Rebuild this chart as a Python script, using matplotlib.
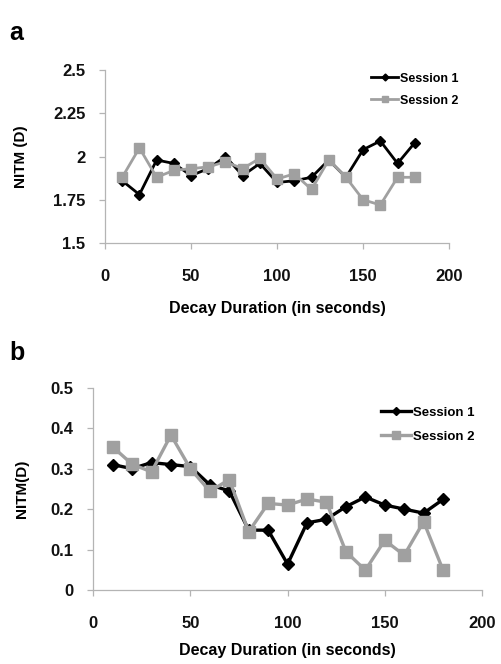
import matplotlib
matplotlib.use("Agg")
import matplotlib.pyplot as plt

plt.rcParams['font.family'] = ['Liberation Sans', 'DejaVu Sans']
plt.rcParams['font.weight'] = 'bold'

# data
secs = [10, 20, 30, 40, 50, 60, 70, 80, 90, 100, 110, 120, 130, 140, 150, 160, 170, 180]

a_s1 = [1.86, 1.78, 1.98, 1.96, 1.89, 1.93, 2.00, 1.89, 1.96, 1.85, 1.86, 1.88,
        1.98, 1.88, 2.04, 2.09, 1.96, 2.08]
a_s2 = [1.88, 2.05, 1.88, 1.92, 1.93, 1.94, 1.97, 1.93, 1.99, 1.87, 1.90, 1.81,
        1.98, 1.88, 1.75, 1.72, 1.88, 1.88]

b_s1 = [0.31, 0.30, 0.315, 0.31, 0.305, 0.26, 0.245, 0.148, 0.148, 0.064, 0.166,
        0.175, 0.206, 0.23, 0.21, 0.20, 0.19, 0.224]
b_s2 = [0.354, 0.311, 0.292, 0.383, 0.30, 0.244, 0.273, 0.144, 0.214, 0.21, 0.225,
        0.217, 0.095, 0.049, 0.123, 0.086, 0.169, 0.049]

a_yticks = [1.5, 1.75, 2, 2.25, 2.5]
a_ylabels = ['1.5', '1.75', '2', '2.25', '2.5']
b_yticks = [0, 0.1, 0.2, 0.3, 0.4, 0.5]
b_ylabels = ['0', '0.1', '0.2', '0.3', '0.4', '0.5']
xticks = [0, 50, 100, 150, 200]
xlabels = ['0', '50', '100', '150', '200']

BLACK = '#000000'
GRAY = '#a0a0a0'
SPINE = '#b4b4b4'


def style_axes(ax, yticks, ylabels, fs):
    for s in ['top', 'right']:
        ax.spines[s].set_visible(False)
    for s in ['left', 'bottom']:
        ax.spines[s].set_color(SPINE)
        ax.spines[s].set_linewidth(0.9)
    ax.set_xticks(xticks)
    ax.set_xticklabels(xlabels, fontsize=fs, fontweight='bold', color='#111111')
    ax.set_yticks(yticks)
    ax.set_yticklabels(ylabels, fontsize=fs, fontweight='bold', color='#111111')
    ax.tick_params(axis='both', colors=SPINE, labelcolor='#111111', length=4,
                   width=0.9, direction='out')
    ax.tick_params(axis='x', pad=15)
    ax.tick_params(axis='y', pad=10)


fig = plt.figure(figsize=(5.01, 6.64), dpi=100)

# panel a
ax1 = fig.add_axes([0.2096, 0.634, 0.687, 0.2605])
ax1.plot(secs, a_s1, color=BLACK, lw=2.0, marker='D', ms=5, label='Session 1')
ax1.plot(secs, a_s2, color=GRAY, lw=2.0, marker='s', ms=7, label='Session 2')
ax1.set_xlim(0, 200)
ax1.set_ylim(1.5, 2.5)
style_axes(ax1, a_yticks, a_ylabels, 12)
ax1.set_xlabel('Decay Duration (in seconds)', fontsize=11.5, fontweight='bold', labelpad=12)
ax1.set_ylabel('NITM (D)', fontsize=11, fontweight='bold', labelpad=18)
leg1 = ax1.legend(loc='upper left', bbox_to_anchor=(0.74, 1.05), frameon=False,
                  fontsize=9, handlelength=2.2, handletextpad=0.1, labelspacing=0.8,
                  markerscale=0.7)
for t in leg1.get_texts():
    t.set_fontweight('bold')
fig.text(0.018, 0.94, 'a', fontsize=18, fontweight='bold')

# panel b
ax2 = fig.add_axes([0.186, 0.1114, 0.776, 0.3047])
ax2.plot(secs, b_s1, color=BLACK, lw=2.4, marker='D', ms=6, label='Session 1')
ax2.plot(secs, b_s2, color=GRAY, lw=2.4, marker='s', ms=9, label='Session 2')
ax2.set_xlim(0, 200)
ax2.set_ylim(0, 0.5)
style_axes(ax2, b_yticks, b_ylabels, 12)
ax2.set_xlabel('Decay Duration (in seconds)', fontsize=11.5, fontweight='bold', labelpad=8)
ax2.set_ylabel('NITM(D)', fontsize=11, fontweight='bold', labelpad=16)
leg2 = ax2.legend(loc='upper left', bbox_to_anchor=(0.71, 0.965), frameon=False,
                  fontsize=9.5, handlelength=2.3, handletextpad=0.1, labelspacing=0.9,
                  markerscale=0.7)
for t in leg2.get_texts():
    t.set_fontweight('bold')
fig.text(0.018, 0.458, 'b', fontsize=18, fontweight='bold')

fig.savefig('out.png', dpi=100)
